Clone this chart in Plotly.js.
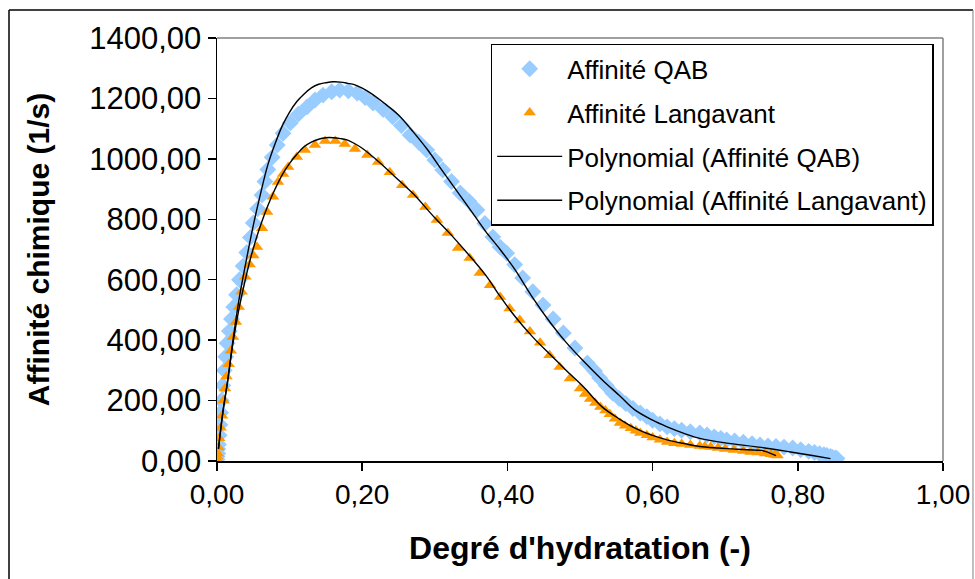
<!DOCTYPE html>
<html>
<head>
<meta charset="utf-8">
<script src="https://cdn.plot.ly/plotly-3.0.1.min.js"></script>
<style>html,body{margin:0;padding:0;background:#fff;}#chart{width:975px;height:579px;}</style>
</head>
<body>
<div id="chart"></div>
<script>
// Affinité QAB (measured points)
var qabX = [0.000,0.000,0.001,0.001,0.002,0.003,0.004,0.005,0.006,0.008,0.010,0.012,0.014,0.017,0.020,0.023,0.027,0.031,0.036,0.041,0.046,0.050,0.056,0.062,0.066,0.070,0.076,0.083,0.091,0.101,0.112,0.124,0.135,0.146,0.158,0.169,0.181,0.193,0.204,0.215,0.229,0.242,0.254,0.266,0.278,0.289,0.300,0.311,0.323,0.335,0.347,0.358,0.369,0.380,0.390,0.399,0.410,0.421,0.435,0.449,0.463,0.477,0.493,0.510,0.520,0.527,0.536,0.545,0.554,0.563,0.573,0.583,0.592,0.600,0.610,0.620,0.630,0.640,0.652,0.665,0.675,0.685,0.694,0.702,0.713,0.725,0.737,0.748,0.759,0.770,0.781,0.793,0.804,0.815,0.823,0.830,0.836,0.840,0.845,0.848,0.852,0.854];
var qabY = [5,15,25,40,55,85,120,160,200,250,300,345,390,430,470,510,550,600,645,690,740,788,835,880,925,965,1005,1046,1085,1119,1148,1172,1195,1211,1222,1228,1225,1218,1203,1185,1163,1139,1110,1079,1055,1029,996,963,925,887,860,831,786,741,708,688,650,606,560,516,470,424,374,324,298,275,250,225,207,190,174,159,147,135,123,113,107,102,97,93,86,80,75,70,66,62,57,53,50,48,46,43,37,32,28,24,21,18,15,12,10,8];
// Affinité Langavant (measured points)
var lanX = [0.000,0.000,0.001,0.002,0.003,0.005,0.007,0.009,0.011,0.013,0.016,0.019,0.022,0.026,0.030,0.034,0.039,0.045,0.050,0.055,0.062,0.069,0.077,0.084,0.091,0.098,0.110,0.121,0.135,0.149,0.163,0.176,0.190,0.207,0.222,0.238,0.255,0.270,0.287,0.303,0.318,0.332,0.348,0.362,0.376,0.390,0.403,0.417,0.431,0.445,0.458,0.472,0.486,0.500,0.507,0.514,0.521,0.528,0.535,0.541,0.548,0.555,0.562,0.570,0.577,0.583,0.592,0.600,0.610,0.620,0.630,0.640,0.652,0.665,0.672,0.680,0.690,0.700,0.712,0.725,0.735,0.745,0.755,0.763,0.768,0.772];
var lanY = [5,15,25,45,75,110,150,200,240,280,320,365,410,460,510,560,610,650,680,708,770,824,875,923,950,973,1006,1029,1046,1059,1059,1049,1033,1013,990,956,913,880,841,798,755,705,672,622,582,543,505,467,429,391,350,311,273,240,222,205,192,179,167,155,140,126,117,108,100,93,85,78,70,63,59,56,53,50,48,46,43,40,36,33,30,28,25,22,20,18];
// Polynomial trendlines
var polyQabX = [0.002,0.008,0.015,0.022,0.030,0.040,0.050,0.060,0.070,0.080,0.090,0.100,0.110,0.120,0.130,0.140,0.150,0.160,0.170,0.180,0.190,0.200,0.210,0.230,0.250,0.270,0.290,0.310,0.330,0.350,0.370,0.390,0.410,0.435,0.460,0.480,0.505,0.530,0.555,0.575,0.600,0.620,0.645,0.665,0.700,0.750,0.790,0.820,0.845];
var polyQabY = [40,160,270,400,530,660,780,885,980,1050,1110,1155,1190,1215,1235,1247,1252,1255,1254,1250,1245,1234,1220,1185,1145,1090,1030,962,895,828,760,700,635,540,455,395,330,270,215,170,135,113,90,75,60,45,30,18,8];
var polyLanX = [0.002,0.008,0.015,0.022,0.030,0.038,0.045,0.052,0.060,0.070,0.080,0.090,0.100,0.110,0.120,0.130,0.140,0.150,0.160,0.170,0.180,0.190,0.200,0.220,0.250,0.270,0.300,0.320,0.344,0.370,0.390,0.410,0.435,0.460,0.480,0.505,0.530,0.555,0.575,0.600,0.620,0.645,0.665,0.690,0.710,0.730,0.750,0.760,0.770];
var polyLanY = [40,160,270,390,500,590,660,720,780,845,900,948,985,1015,1040,1055,1065,1070,1070,1067,1062,1050,1035,996,930,885,805,755,690,615,545,480,410,350,302,245,180,138,110,85,70,57,48,43,40,37,35,28,18];

var traces = [
  {x: qabX, y: qabY, mode: 'markers', type: 'scatter', name: 'Affinité QAB', legendgroup: 'a',
   marker: {symbol: 'diamond', size: 13, color: '#99CCFF', line: {width: 0}}},
  {x: lanX, y: lanY, mode: 'markers', type: 'scatter', name: 'Affinité Langavant', legendgroup: 'b',
   marker: {symbol: 'triangle-up', size: 11, color: '#FF9900', line: {width: 0}}},
  {x: polyQabX, y: polyQabY, mode: 'lines', type: 'scatter', name: 'Polynomial (Affinité QAB)', legendgroup: 'c',
   line: {color: '#000000', width: 1.4, shape: 'spline'}},
  {x: polyLanX, y: polyLanY, mode: 'lines', type: 'scatter', name: 'Polynomial (Affinité Langavant)', legendgroup: 'd',
   line: {color: '#000000', width: 1.4, shape: 'spline'}}
];

var fontFam = '"Liberation Sans", Arial, sans-serif';
var layout = {
  width: 975, height: 579,
  margin: {l: 217, r: 32, t: 38, b: 118},
  paper_bgcolor: '#ffffff', plot_bgcolor: '#ffffff',
  separators: ', ',
  showlegend: true,
  font: {family: fontFam, color: '#000000'},
  xaxis: {
    range: [0, 1], dtick: 0.2, tick0: 0, tickformat: '.2f',
    showgrid: false, zeroline: false,
    showline: true, linecolor: '#000000', linewidth: 1.5,
    ticks: 'outside', ticklen: 8, tickwidth: 1.5, tickcolor: '#000000',
    tickfont: {family: fontFam, size: 28, color: '#000000'},
    title: {text: "Degré d'hydratation (-)", font: {family: fontFam, size: 32, weight: 'bold', color: '#000000'}, standoff: 27}
  },
  yaxis: {
    range: [0, 1400], dtick: 200, tick0: 0, tickformat: '.2f',
    showgrid: false, zeroline: false,
    showline: true, linecolor: '#000000', linewidth: 1.5,
    ticks: 'outside', ticklen: 8, tickwidth: 1.5, tickcolor: '#000000',
    tickfont: {family: fontFam, size: 31, color: '#000000'},
    title: {text: 'Affinité chimique (1/s)', font: {family: fontFam, size: 30, weight: 'bold', color: '#000000'}, standoff: 30}
  },
  legend: {
    x: 0.377, y: 0.986, xanchor: 'left', yanchor: 'top',
    bgcolor: '#ffffff', bordercolor: '#000000', borderwidth: 1.5,
    font: {family: fontFam, size: 26, color: '#000000'},
    traceorder: 'grouped', tracegroupgap: 7, itemwidth: 65
  },
  shapes: [
    {type: 'line', xref: 'paper', yref: 'paper', x0: 0, x1: 1, y0: 1, y1: 1, line: {color: '#808080', width: 1.5}},
    {type: 'line', xref: 'paper', yref: 'paper', x0: 1, x1: 1, y0: 0, y1: 1, line: {color: '#808080', width: 1.5}},
    {type: 'line', xref: 'paper', yref: 'paper', x0: -0.2865, x1: 1.0413, y0: 1.0662, y1: 1.0662, line: {color: '#000000', width: 1.5}},
    {type: 'line', xref: 'paper', yref: 'paper', x0: -0.2865, x1: -0.2865, y0: -0.30, y1: 1.0662, line: {color: '#000000', width: 1.5}},
    {type: 'line', xref: 'paper', yref: 'paper', x0: 1.0413, x1: 1.0413, y0: -0.30, y1: 1.0662, line: {color: '#808080', width: 1}}
  ]
};

Plotly.newPlot('chart', traces, layout, {displayModeBar: false, staticPlot: true});
</script>
</body>
</html>
